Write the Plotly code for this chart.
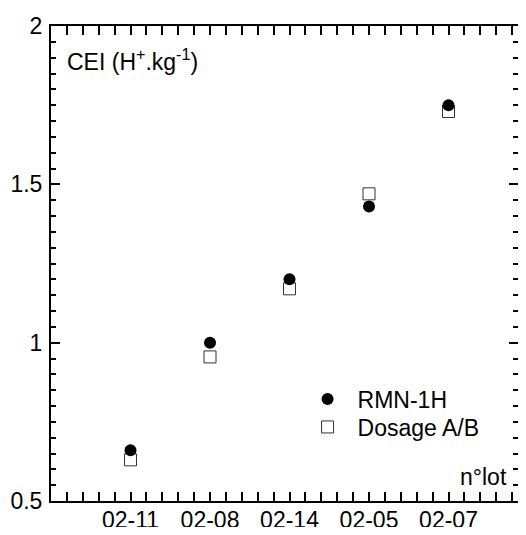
import plotly.graph_objects as go

categories = ["02-11", "02-08", "02-14", "02-05", "02-07"]
rmn_1h = [0.66, 1.00, 1.20, 1.43, 1.75]
dosage_ab = [0.63, 0.955, 1.17, 1.47, 1.73]
y_ticks = [0.5, 1, 1.5, 2]
y_tick_labels = ["0.5", "1", "1.5", "2"]

xpos = list(range(1, len(categories) + 1))
FONT = "Arial, 'Liberation Sans', sans-serif"
FS = 23

fig = go.Figure()
fig.add_trace(go.Scatter(
    x=xpos, y=dosage_ab, mode="markers", name="Dosage A/B", legend="legend2",
    marker=dict(symbol="square", size=12, color="white",
                line=dict(color="#333333", width=1)),
))
fig.add_trace(go.Scatter(
    x=xpos, y=rmn_1h, mode="markers", name="RMN-1H", legend="legend",
    marker=dict(symbol="circle", size=12, color="black",
                line=dict(color="black", width=0)),
))
# empty trace on the right y-axis so that its ticks are drawn
fig.add_trace(go.Scatter(x=[None], y=[None], yaxis="y2", showlegend=False,
                         hoverinfo="skip"))

tick_common = dict(ticks="inside", ticklen=9, tickwidth=2, tickcolor="black",
                   showgrid=False, zeroline=False, automargin=False)
minor_x = dict(tickmode="linear", tick0=0, dtick=0.2, ticks="inside",
               ticklen=5, tickwidth=2, tickcolor="black")
minor_y = dict(tickmode="linear", tick0=0.5, dtick=0.05, ticks="inside",
               ticklen=5, tickwidth=2, tickcolor="black")

leg_common = dict(xanchor="left", yanchor="middle", bgcolor="rgba(0,0,0,0)",
                  itemwidth=50, font=dict(family=FONT, size=FS))

fig.update_layout(
    width=510, height=519,
    margin=dict(l=43, r=0, t=18, b=26),
    paper_bgcolor="white", plot_bgcolor="white",
    font=dict(family=FONT, size=FS, color="black"),
    xaxis=dict(
        range=[0, 5.874], tickmode="array", tickvals=xpos, ticktext=categories,
        showline=True, linecolor="black", linewidth=2, mirror="allticks",
        minor=minor_x, ticklabelstandoff=-3,
        **tick_common,
    ),
    yaxis=dict(
        range=[0.5, 2], tickmode="array", tickvals=y_ticks, ticktext=y_tick_labels,
        showline=True, linecolor="black", linewidth=2, mirror=False,
        minor=minor_y, ticklabelstandoff=2,
        **tick_common,
    ),
    yaxis2=dict(
        range=[0.5, 2], overlaying="y", side="right", anchor="x",
        tickmode="array", tickvals=y_ticks, showticklabels=False,
        showline=False, minor=minor_y,
        **tick_common,
    ),
    legend=dict(x=0.528, y=0.2147, **leg_common),
    legend2=dict(x=0.528, y=0.1558, **leg_common),
    showlegend=True,
    annotations=[
        dict(text="CEI (H<sup>+</sup>.kg<sup>-1</sup>)", xref="paper", yref="paper",
             x=0.030, y=0.928, xanchor="left", yanchor="middle",
             showarrow=False, font=dict(family=FONT, size=FS)),
        dict(text="n°lot", xref="paper", yref="paper",
             x=0.981, y=0.05, xanchor="right", yanchor="middle",
             showarrow=False, font=dict(family=FONT, size=FS)),
    ],
)

fig.write_html("out.html")
